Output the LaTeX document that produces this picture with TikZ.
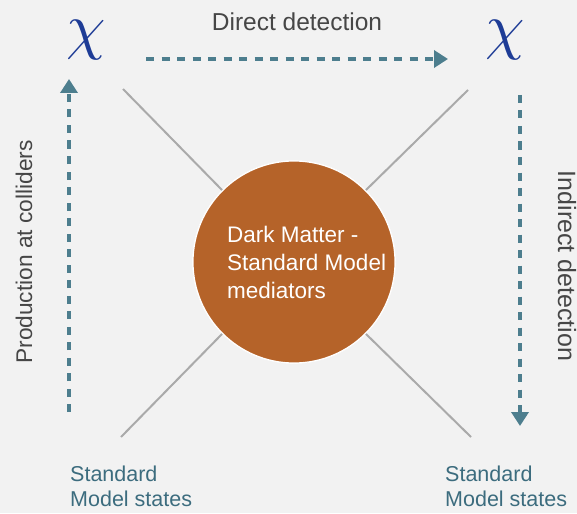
\documentclass[tikz,border=0pt]{standalone}
\usepackage{fontspec}
\setmainfont{Liberation Sans}
\usetikzlibrary{arrows.meta}
\definecolor{bg}{RGB}{242,242,242}
\definecolor{med}{RGB}{181,99,41}
\definecolor{teal}{RGB}{77,126,142}
\definecolor{tealtxt}{RGB}{60,108,126}
\definecolor{chiblue}{RGB}{30,60,150}
\definecolor{lbl}{RGB}{70,70,70}
\definecolor{xline}{RGB}{170,170,170}
\begin{document}
\begin{tikzpicture}[x=1pt,y=-1pt,
  flow/.style={draw=teal,line width=3.6pt,dash pattern=on 8pt off 7.5pt,
    -{Triangle[length=14pt,width=17pt]}},
  xl/.style={draw=xline,line width=2pt},
  medc/.style={circle,fill=med,draw=white,line width=1.2pt,minimum size=202pt,inner sep=0pt},
  lab/.style={text=lbl,font=\fontsize{24.5}{28}\selectfont,inner sep=0pt},
  sm/.style={text=tealtxt,font=\fontsize{21.5}{24.5}\selectfont,align=left,inner sep=0pt,anchor=base west},
  chisty/.style={text=chiblue,inner sep=0pt}]
\fill[bg] (0,0) rectangle (577,513);
\useasboundingbox (0,0) rectangle (577,513);
% chi nodes
\node[chisty] (chiL) at (86,40) {\scalebox{6.3}{$\chi$}};
\node[chisty] (chiR) at (505,40) {\scalebox{6.3}{$\chi$}};
% mediator
\node[medc] (med) at (294,262) {};
% X lines
\coordinate (tl) at (123,89);
\coordinate (tr) at (468,90);
\coordinate (bl) at (121,437);
\coordinate (br) at (471,437);
\draw[xl] (tl) -- (med.135);
\draw[xl] (tr) -- (med.45);
\draw[xl] (bl) -- (med.-135);
\draw[xl] (br) -- (med.-45);
\node[medc] (medtop) at (294,262) {};
\node[text=white,font=\fontsize{22.5}{28}\selectfont,align=left,anchor=base west,inner sep=0pt] (medtxt) at (227,298)
  {Dark Matter -\\Standard Model\\mediators};
% arrows
\coordinate (h1) at (146,59);
\coordinate (h2) at (448,59);
\coordinate (v1) at (69,412);
\coordinate (v2) at (69,79);
\coordinate (w1) at (520,95);
\coordinate (w2) at (520,426);
\draw[flow] (h1) -- (h2);
\draw[flow] (v1) -- (v2);
\draw[flow] (w1) -- (w2);
% labels
\node[lab,anchor=base] (dd) at (297,31) {Direct detection};
\node[lab,anchor=base,rotate=90,font=\fontsize{22.7}{26}\selectfont] (pc) at (32,252) {Production at colliders};
\node[lab,anchor=base,rotate=-90,font=\fontsize{25}{28}\selectfont] (id) at (558,266) {Indirect detection};
\node[sm] (smL) at (70,506) {Standard\\Model states};
\node[sm] (smR) at (445,506) {Standard\\Model states};
\end{tikzpicture}
\end{document}
